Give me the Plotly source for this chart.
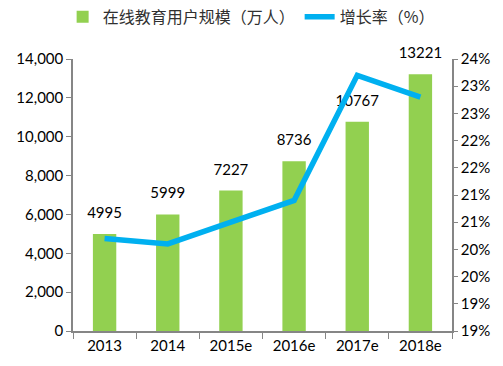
import plotly.graph_objects as go

years = ["2013", "2014", "2015e", "2016e", "2017e", "2018e"]
users = [4995, 5999, 7227, 8736, 10767, 13221]
growth = [20.2, 20.1, 20.5, 20.9, 23.2, 22.8]
right_tickvals = [18.5, 19.0, 19.5, 20.0, 20.5, 21.0, 21.5, 22.0, 22.5, 23.0, 23.5]
right_ticktext = ["19%", "19%", "20%", "20%", "21%", "21%", "22%", "22%", "23%", "23%", "24%"]
left_tickvals = [0, 2000, 4000, 6000, 8000, 10000, 12000, 14000]

GREEN = "#92D050"
BLUE = "#00B0F0"
AXIS = "#868686"
FONT = "Lato, Noto Sans CJK SC, sans-serif"

fig = go.Figure()
fig.add_trace(go.Bar(
    x=years, y=users, name="在线教育用户规模（万人）",
    marker=dict(color=GREEN, line=dict(width=0)),
))
fig.add_trace(go.Scatter(
    x=years, y=growth, name="增长率（%）", mode="lines",
    line=dict(color=BLUE, width=5.5),
    yaxis="y2",
))
# value labels above the bars
fig.add_trace(go.Scatter(
    x=years, y=users, mode="markers+text", showlegend=False,
    text=[str(v) for v in users], textposition="top center",
    textfont=dict(size=15, color="#000000", family=FONT),
    marker=dict(size=18, opacity=0), cliponaxis=False, hoverinfo="skip",
))

fig.update_layout(
    width=503, height=366,
    margin=dict(l=73, r=51, t=59, b=35, autoexpand=False),
    plot_bgcolor="white", paper_bgcolor="white",
    font=dict(family=FONT, size=14, color="#000000"),
    bargap=0.63,
    showlegend=True,
    legend=dict(orientation="h", x=0.47, xanchor="center", y=1.155,
                yanchor="middle", font=dict(size=16, family="Noto Sans CJK SC, sans-serif", color="#303030"),
                traceorder="normal"),
    xaxis=dict(
        type="category",
        showline=True, linecolor=AXIS, linewidth=1.5,
        ticks="outside", ticklen=6, tickcolor=AXIS, tickson="boundaries",
        showgrid=False, tickfont=dict(size=15), tickangle=0,
    ),
    yaxis=dict(
        range=[0, 14000], tickvals=left_tickvals, tickformat=",",
        showline=True, linecolor=AXIS, linewidth=1.5,
        ticks="outside", ticklen=5, tickcolor=AXIS,
        showgrid=False, zeroline=False, tickfont=dict(size=15),
    ),
    yaxis2=dict(
        range=[18.5, 23.5], tickvals=right_tickvals, ticktext=right_ticktext,
        overlaying="y", side="right",
        showline=True, linecolor=AXIS, linewidth=1.5,
        ticks="outside", ticklen=4, tickcolor=AXIS,
        showgrid=False, zeroline=False, tickfont=dict(size=15),
    ),
)

fig.write_html("out.html", config={"displayModeBar": False},
               post_script="document.body.style.margin='0';")
